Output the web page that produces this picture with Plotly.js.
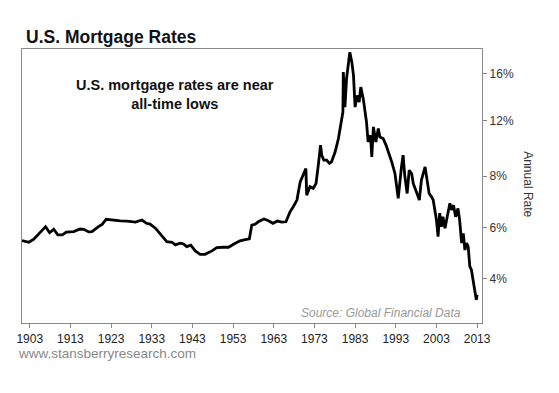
<!DOCTYPE html>
<html>
<head>
<meta charset="utf-8">
<script src="https://cdn.plot.ly/plotly-3.0.1.min.js"></script>
<style>html,body{margin:0;padding:0;background:#fff;}#chart{width:559px;height:393px;}</style>
</head>
<body>
<div id="chart"></div>
<script>
// Year (fractional) and annual mortgage rate (%)
const years = [1901.1,1902.8,1904.0,1906.9,1907.9,1908.9,1909.9,1911.0,1912.0,1913.8,1915.4,1916.3,1917.5,1918.3,1919.9,1920.8,1921.8,1923.6,1925.3,1926.9,1929.0,1930.6,1931.7,1932.6,1933.9,1936.7,1938.0,1938.8,1940.0,1940.8,1941.6,1942.6,1943.7,
1944.9,1946.1,1947.8,1949.0,1950.6,1951.9,1953.1,1954.7,1956.0,1957.0,1957.6,1958.4,1959.2,1960.6,1961.7,1962.8,1963.9,1965.0,1966.0,1967.0,1967.8,1968.7,1969.5,1970.3,1970.9,
1971.1,1971.9,1972.7,1973.4,1974.0,1974.5,1974.8,1975.3,1976.0,1976.7,1977.2,1978.1,1978.9,1979.7,1980.0,1980.1,1980.5,1980.9,1981.3,1981.7,1982.2,1982.6,1983.0,1983.5,1984.0,1984.4,1985.0,1985.4,1985.8,1986.2,1986.8,1987.1,1987.5,1988.1,1988.7,1989.1,1989.9,1990.6,1991.2,1992.0,1992.8,1993.6,
1994.4,1994.8,1995.2,1995.8,1996.3,1996.9,1997.3,1998.1,1998.8,1999.3,2000.2,2000.7,2001.2,2001.8,2002.2,2002.6,2003.0,2003.4,2003.8,2004.2,2004.6,2005.1,2005.6,2006.3,2006.7,2007.2,2007.7,2008.3,2008.7,2009.2,2009.6,2010.0,2010.4,2010.8,2011.2,2011.6,2012.0,2012.4,2012.8,2013.0];
const rates = [5.18,5.12,5.23,5.69,5.46,5.59,5.38,5.38,5.48,5.50,5.60,5.59,5.49,5.50,5.69,5.78,5.98,5.94,5.92,5.91,5.87,5.95,5.82,5.79,5.63,5.14,5.12,5.03,5.09,5.06,4.97,5.02,4.83,
4.72,4.72,4.83,4.94,4.95,4.95,5.05,5.17,5.21,5.24,5.75,5.78,5.88,5.99,5.92,5.82,5.91,5.87,5.88,6.29,6.51,6.81,7.70,8.06,8.43,
7.04,7.45,7.37,7.62,8.72,9.87,9.22,8.92,8.92,8.72,8.81,9.43,10.32,11.54,12.34,16.16,12.76,15.46,16.90,18.48,17.28,15.80,12.76,13.81,13.20,14.60,13.51,12.34,11.54,10.08,10.55,9.11,11.16,10.08,11.04,10.43,10.32,9.87,9.43,8.81,8.15,6.89,
8.52,9.22,8.06,7.12,8.33,8.15,7.62,7.12,6.81,7.79,8.52,7.79,7.12,6.96,6.81,6.37,5.95,5.32,6.23,5.69,6.08,5.63,6.08,6.66,6.37,6.58,6.08,6.44,5.95,5.09,5.44,4.86,5.09,4.97,4.35,4.25,3.97,3.71,3.47,3.59];

const xTickVals = [1903,1913,1923,1933,1943,1953,1963,1973,1983,1993,2003,2013];
const yTickVals = [4, 5.65, 8, 11.67, 16];
const yTickText = ['4%','6%','8%','12%','16%'];

const FONT = 'Arial, "Liberation Sans", sans-serif';

const trace = {
  x: years, y: rates, type: 'scatter', mode: 'lines',
  line: {color: '#000', width: 2.8}, hoverinfo: 'skip'
};

const PW = 460.3, PH = 274.3, PL = 22, PT = 49;
const px = v => (v - PL) / PW;
const py = v => 1 - (v - PT) / PH;

const layout = {
  width: 559, height: 393,
  margin: {l: 22, r: 77, t: 49, b: 70, pad: 0},
  paper_bgcolor: '#fff', plot_bgcolor: '#fff',
  showlegend: false,
  font: {family: FONT, size: 12, color: '#222'},
  xaxis: {
    range: [1901.1, 2014.2],
    tickmode: 'array', tickvals: xTickVals, ticktext: xTickVals.map(String),
    ticks: 'outside', ticklen: 4, tickcolor: '#888', tickwidth: 1,
    showline: true, linecolor: '#888', linewidth: 1.2, mirror: true,
    showgrid: false, zeroline: false,
    tickfont: {family: FONT, size: 12, color: '#222'}
  },
  yaxis: {
    type: 'log', side: 'right',
    range: [Math.log10(2.968), Math.log10(18.89)],
    tickmode: 'array', tickvals: yTickVals, ticktext: yTickText,
    ticks: 'outside', ticklen: 4, tickcolor: '#888', tickwidth: 1,
    showline: true, linecolor: '#888', linewidth: 1.2, mirror: true,
    showgrid: false, zeroline: false,
    tickfont: {family: FONT, size: 12, color: '#333'}
  },
  annotations: [
    {text: '<b>U.S. Mortgage Rates</b>', xref: 'paper', yref: 'paper', x: px(24), y: py(37), xanchor: 'left', yanchor: 'middle',
     showarrow: false, font: {family: FONT, size: 17.5, color: '#111'}},
    {text: '<b>U.S. mortgage rates are near<br>all-time lows</b>', xref: 'paper', yref: 'paper', x: px(175), y: py(95), xanchor: 'center', yanchor: 'middle',
     showarrow: false, font: {family: FONT, size: 14.5, color: '#111'}},
    {text: '<i>Source: Global Financial Data</i>', xref: 'paper', yref: 'paper', x: px(463), y: py(313), xanchor: 'right', yanchor: 'middle',
     showarrow: false, font: {family: FONT, size: 12, color: '#999'}},
    {text: 'www.stansberryresearch.com', xref: 'paper', yref: 'paper', x: px(16), y: py(354), xanchor: 'left', yanchor: 'middle',
     showarrow: false, font: {family: FONT, size: 13.5, color: '#888'}},
    {text: 'Annual Rate', xref: 'paper', yref: 'paper', x: px(528), y: py(184), xanchor: 'center', yanchor: 'middle', textangle: 90,
     showarrow: false, font: {family: FONT, size: 12, color: '#333'}}
  ]
};

Plotly.newPlot('chart', [trace], layout, {staticPlot: true, displayModeBar: false});
</script>
</body>
</html>
